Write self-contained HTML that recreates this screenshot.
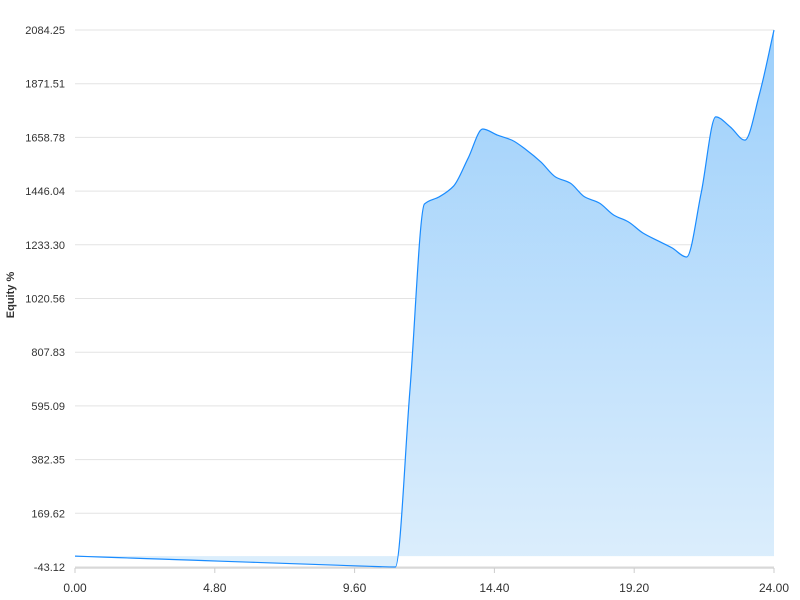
<!DOCTYPE html>
<html><head><meta charset="utf-8"><style>
html,body{margin:0;padding:0;background:#fff;}
svg{display:block;font-family:"Liberation Sans",sans-serif;}
</style></head><body>
<svg id="chart" width="800" height="600">
<defs><linearGradient id="g" x1="0" y1="0" x2="0" y2="1">
<stop offset="0" stop-color="#9ccffb"/><stop offset="1" stop-color="#dceefc"/></linearGradient></defs>
<g id="grid"></g>
<g id="yticks"></g>
<g id="xticks"></g>
<path id="area" fill="url(#g)"/>
<path id="line" fill="none" stroke="#1a8cff" stroke-width="1.2"/>
<text x="14" y="295" transform="rotate(-90 14 295)" text-anchor="middle" font-size="11" font-weight="bold" fill="#333">Equity %</text>
</svg>
<script>
const xValues=[0,1,2,3,4,5,6,7,8,9,10,11,11.5,12,12.5,13,13.5,14,14.5,15,15.5,16,16.5,17,17.5,18,18.5,19,19.5,20,20.5,21,21.5,22,22.5,23,23.5,24];
const equity=[0,-4,-8,-12,-16,-20,-24,-28,-32,-36,-40,-43,658,1395,1423,1466,1577,1692,1668,1648,1609,1561,1502,1478,1423,1399,1351,1324,1280,1250,1221,1185,1439,1740,1700,1648,1830,2084];
const yTickLabels=["-43.12","169.62","382.35","595.09","807.83","1020.56","1233.30","1446.04","1658.78","1871.51","2084.25"];
const xTickLabels=["0.00","4.80","9.60","14.40","19.20","24.00"];
const ns="http://www.w3.org/2000/svg";
const X0=75,X1=774,Y0=567,Y1=30,ymin=-43.12,ymax=2084.25,xmax=24;
const sx=v=>X0+(v/xmax)*(X1-X0);
const sy=v=>Y0-(v-ymin)/(ymax-ymin)*(Y0-Y1);
function mk(tag,attrs,parent,txt){const e=document.createElementNS(ns,tag);for(const k in attrs)e.setAttribute(k,attrs[k]);if(txt!==undefined)e.textContent=txt;parent.appendChild(e);return e;}
const grid=document.getElementById('grid'),yt=document.getElementById('yticks'),xt=document.getElementById('xticks');
yTickLabels.forEach((l,i)=>{const y=sy(parseFloat(l));
 const ln=mk('line',{x1:X0,x2:X1,y1:y,y2:y,stroke:i===0?'#d8d8d8':'#e3e3e3','stroke-width':1},grid);
 
 
 const t=mk('text',{x:65,y:y+4,'text-anchor':'end','font-size':11,fill:'#333'},yt,l);
 
 
});
mk('line',{x1:X0,x2:X1,y1:Y0+1,y2:Y0+1,stroke:'#d8d8d8','stroke-width':1.5},xt);
xTickLabels.forEach(l=>{const x=sx(parseFloat(l));
 mk('line',{x1:x,x2:x,y1:Y0+1,y2:Y0+6,stroke:'#ccc'},xt);
 const t=mk('text',{x:x,y:592,'text-anchor':'middle','font-size':12,fill:'#333'},xt,l);
 
 
});
// monotone cubic (Fritsch-Carlson) in pixel space
const P=xValues.map((x,i)=>[sx(x),sy(equity[i])]);
const n=P.length,dx=[],m=[],tg=[];
for(let i=0;i<n-1;i++){dx[i]=P[i+1][0]-P[i][0];m[i]=(P[i+1][1]-P[i][1])/dx[i];}
tg[0]=m[0];tg[n-1]=m[n-2];
for(let i=1;i<n-1;i++){if(m[i-1]*m[i]<=0)tg[i]=0;else{const w1=2*dx[i]+dx[i-1],w2=dx[i]+2*dx[i-1];tg[i]=(w1+w2)/(w1/m[i-1]+w2/m[i]);}}
let d=`M${P[0][0]},${P[0][1]}`;
for(let i=0;i<n-1;i++){const h=dx[i]/3;
 d+=` C${P[i][0]+h},${P[i][1]+tg[i]*h} ${P[i+1][0]-h},${P[i+1][1]-tg[i+1]*h} ${P[i+1][0]},${P[i+1][1]}`;}
document.getElementById('line').setAttribute('d',d);
const zy=sy(0);
document.getElementById('area').setAttribute('d',d+` L${P[n-1][0]},${zy} L${P[0][0]},${zy} Z`);
</script>
</body></html>
